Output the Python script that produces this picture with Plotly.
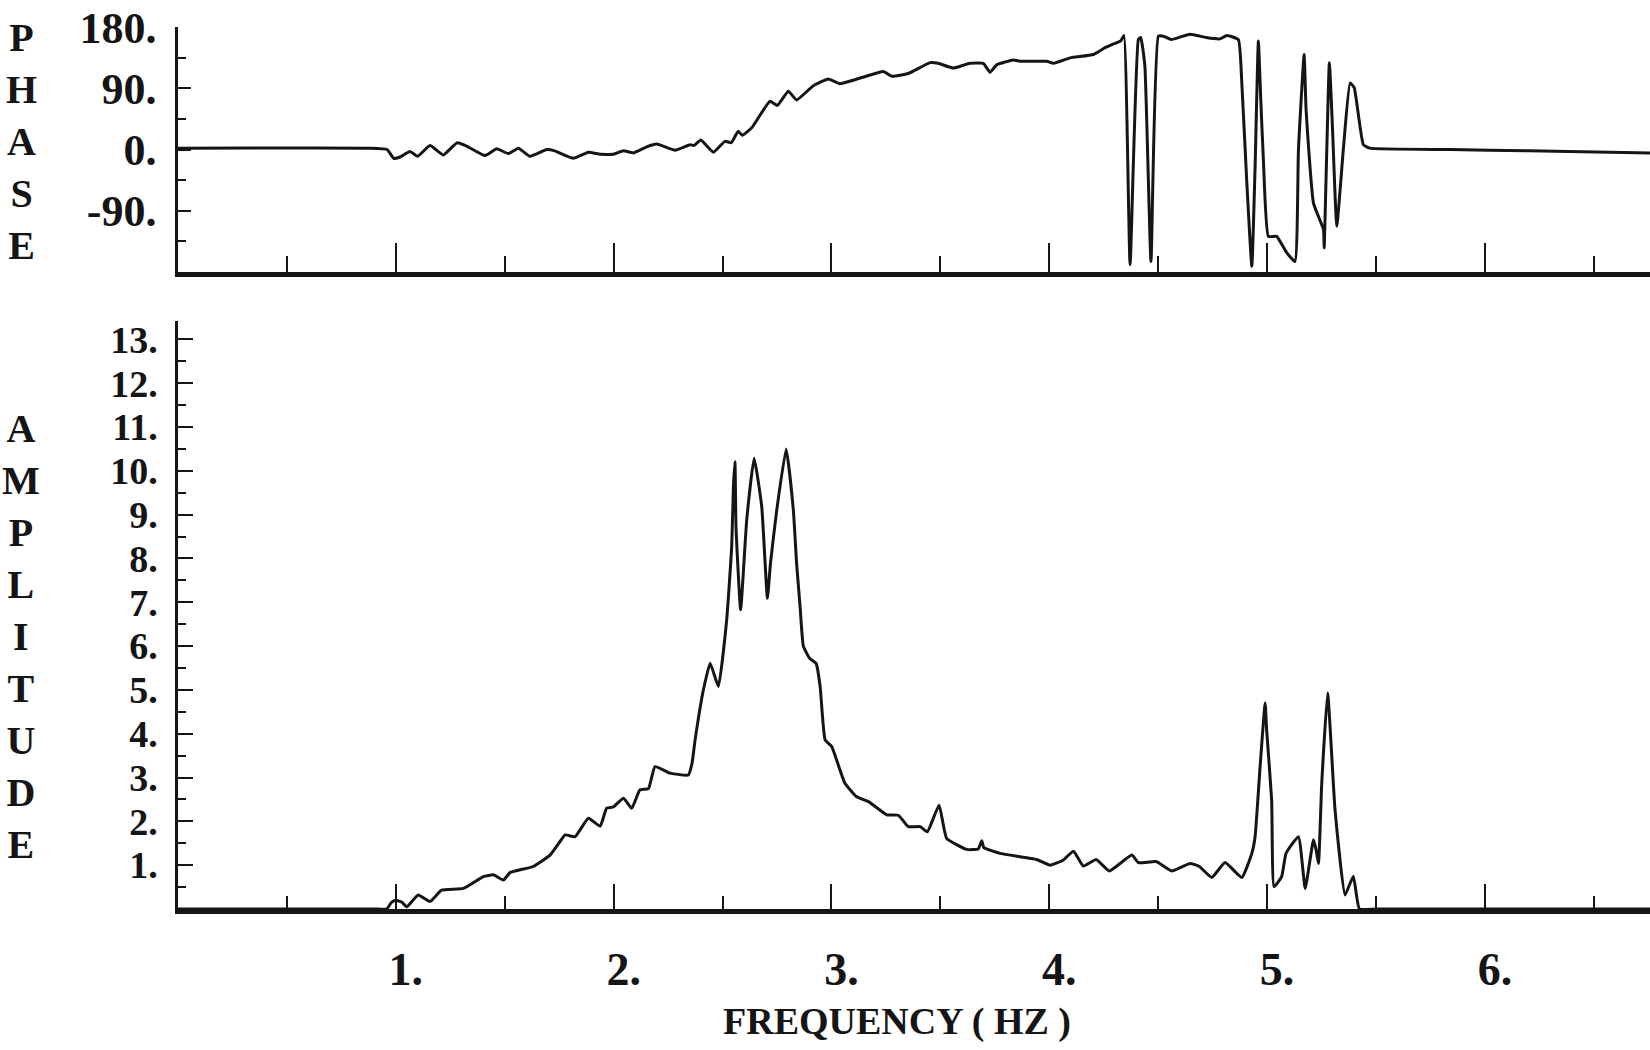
import plotly.graph_objects as go

# ---------------- data ----------------
phase_freq = [0.0, 0.88, 0.96, 0.99, 1.02, 1.065, 1.10, 1.157, 1.218, 1.282,
              1.325, 1.41, 1.463, 1.517, 1.563, 1.616, 1.693, 1.73, 1.815, 1.884,
              1.938, 1.999, 2.045, 2.091, 2.152, 2.198, 2.282, 2.351, 2.37, 2.40,
              2.458, 2.511, 2.54, 2.572, 2.59, 2.634, 2.718, 2.752, 2.802, 2.84,
              2.917, 2.986, 3.039, 3.139, 3.238, 3.277, 3.353, 3.453, 3.49, 3.56,
              3.636, 3.697, 3.728, 3.759, 3.835, 3.87, 3.988, 4.019, 4.096, 4.202,
              4.256, 4.29, 4.328, 4.343, 4.371, 4.409, 4.42, 4.439, 4.467, 4.501,
              4.524, 4.56, 4.646, 4.72, 4.784, 4.815, 4.868, 4.884, 4.907, 4.93,
              4.945, 4.96, 4.971, 4.983, 5.006, 5.044, 5.09, 5.128, 5.144, 5.17,
              5.179, 5.213, 5.259, 5.262, 5.286, 5.30, 5.32, 5.35, 5.381, 5.40,
              5.442, 5.47, 5.84, 6.2, 6.76]
phase_deg = [2, 2, 0, -13, -11, -3, -10, 6, -8, 10,
             5, -9, 1, -6, 2, -10, 0, -2, -13, -4,
             -7, -7, -2, -5, 4, 8, -1, 7, 6, 14,
             -4, 12, 10, 27, 21, 32, 71, 65, 86, 73,
             94, 104, 97, 106, 115, 108, 112, 128, 127, 120,
             127, 127, 114, 125, 132, 130, 130, 127, 135, 140,
             150, 155, 160, 168, -170, 162, 165, 123, -165, 167,
             167, 162, 170, 165, 163, 168, 162, 98, -49, -172,
             -25, 160, 74, -15, -128, -128, -152, -165, 0, 140,
             59, -79, -118, -145, 128, 34, -113, 0, 98, 91,
             7, 2, 0, -2, -5]

amp_freq = [0.0, 0.5, 0.9, 0.958, 0.98, 1.0, 1.03, 1.05, 1.103, 1.157, 1.21, 1.31,
            1.402, 1.448, 1.494, 1.524, 1.631, 1.708, 1.754, 1.777, 1.823, 1.884,
            1.938, 1.968, 1.999, 2.045, 2.083, 2.121, 2.16, 2.19, 2.259, 2.343,
            2.36, 2.374, 2.389, 2.412, 2.443, 2.481, 2.519, 2.542, 2.55, 2.557,
            2.562, 2.583, 2.611, 2.645, 2.68, 2.706, 2.72, 2.749, 2.792, 2.825,
            2.84, 2.856, 2.871, 2.90, 2.93, 2.948, 2.971, 3.001, 3.062, 3.116,
            3.17, 3.254, 3.307, 3.353, 3.407, 3.44, 3.494, 3.529, 3.621, 3.674,
            3.69, 3.70, 3.774, 3.942, 4.004, 4.065, 4.111, 4.157, 4.215, 4.276,
            4.379, 4.409, 4.493, 4.562, 4.646, 4.689, 4.746, 4.807, 4.884, 4.93,
            4.945, 4.968, 4.991, 4.998, 5.021, 5.032, 5.067, 5.087, 5.144, 5.175,
            5.213, 5.225, 5.236, 5.251, 5.278, 5.312, 5.358, 5.396, 5.424, 5.5,
            6.0, 6.4, 6.76]
amp_val = [0.0, 0.0, 0.0, 0.0, 0.15, 0.2, 0.15, 0.05, 0.32, 0.17, 0.43, 0.47,
           0.74, 0.78, 0.66, 0.83, 0.97, 1.23, 1.54, 1.69, 1.65, 2.07,
           1.89, 2.30, 2.33, 2.53, 2.30, 2.72, 2.75, 3.25, 3.10, 3.06,
           3.33, 3.86, 4.35, 5.0, 5.61, 5.08, 6.6, 8.27, 9.64, 10.21,
           8.7, 6.83, 8.88, 10.29, 9.18, 7.09, 7.89, 9.11, 10.5, 9.11,
           7.89, 6.9, 6.0, 5.72, 5.6, 5.08, 3.86, 3.71, 2.87, 2.56,
           2.45, 2.15, 2.14, 1.88, 1.88, 1.76, 2.37, 1.61, 1.36, 1.37,
           1.56, 1.40, 1.27, 1.13, 1.00, 1.12, 1.32, 0.98, 1.13, 0.87,
           1.23, 1.06, 1.08, 0.87, 1.04, 0.97, 0.72, 1.06, 0.72, 1.27,
           1.65, 3.25, 4.70, 4.09, 2.49, 0.51, 0.74, 1.27, 1.65, 0.47,
           1.58, 1.35, 1.04, 2.87, 4.93, 2.26, 0.32, 0.75, 0.0, 0.0,
           0.0, 0.0, 0.0]

x_ticks = [1, 2, 3, 4, 5, 6]
x_labels = ["1.", "2.", "3.", "4.", "5.", "6."]
phase_ticks = [-90, 0, 90, 180]
phase_labels = ["-90.", "0.", "90.", "180."]
amp_ticks = list(range(1, 14))
amp_labels = [f"{v}." for v in amp_ticks]

# ---------------- styling ----------------
INK = "#151515"
FONT = "Liberation Serif, DejaVu Serif, serif"
W, H = 1650, 1050
X0 = 178 / W


def font(size):
    return dict(family=FONT, size=size, color=INK, weight="bold")


fig = go.Figure()
fig.add_trace(go.Scatter(x=phase_freq, y=phase_deg, mode="lines",
                         line=dict(color=INK, width=3, shape="spline", smoothing=0.4),
                         xaxis="x", yaxis="y", showlegend=False, hoverinfo="skip"))
fig.add_trace(go.Scatter(x=amp_freq, y=amp_val, mode="lines",
                         line=dict(color=INK, width=3, shape="spline", smoothing=0.4),
                         xaxis="x2", yaxis="y2", showlegend=False, hoverinfo="skip"))

xcommon = dict(range=[0, 6.758], showgrid=False, zeroline=False, showline=True,
               linecolor=INK, linewidth=5, ticks="inside", tickcolor=INK, tickwidth=2,
               tickmode="array", tickvals=x_ticks, automargin=False,
               minor=dict(tickmode="linear", tick0=0, dtick=0.5, ticks="inside",
                          tickcolor=INK, tickwidth=2))

fig.update_layout(
    width=W, height=H, autosize=False,
    margin=dict(l=0, r=0, t=0, b=0, pad=0),
    paper_bgcolor="white", plot_bgcolor="white",
    xaxis=dict(xcommon, domain=[X0, 1], anchor="y", ticklen=29,
               minor=dict(xcommon["minor"], ticklen=16), showticklabels=False),
    yaxis=dict(domain=[1 - 272 / H, 1 - 27 / H], anchor="x", range=[-180.5, 180.5],
               showgrid=False, zeroline=False, showline=True, linecolor=INK,
               linewidth=2.5, ticks="inside", ticklen=13, tickwidth=2, tickcolor=INK,
               tickmode="array", tickvals=phase_ticks, ticktext=phase_labels,
               automargin=False,
               minor=dict(tickmode="linear", tick0=0, dtick=45, ticks="inside",
                          ticklen=8, tickwidth=2, tickcolor=INK),
               tickfont=font(44), ticklabelstandoff=10),
    xaxis2=dict(xcommon, domain=[X0, 1], anchor="y2", ticklen=25,
                minor=dict(xcommon["minor"], ticklen=13),
                ticktext=x_labels, tickfont=font(46),
                ticklabelstandoff=16, ticklabelshift=10),
    yaxis2=dict(domain=[1 - 909 / H, 1 - 321 / H], anchor="x2", range=[0, 13.42],
                showgrid=False, zeroline=False, showline=True, linecolor=INK,
                linewidth=2.5, ticks="inside", ticklen=15, tickwidth=2, tickcolor=INK,
                tickmode="array", tickvals=amp_ticks, ticktext=amp_labels,
                automargin=False,
                minor=dict(tickmode="linear", tick0=0, dtick=0.5, ticks="inside",
                           ticklen=8, tickwidth=2, tickcolor=INK),
                tickfont=font(38), ticklabelstandoff=10),
    annotations=[
        dict(text="P<br>H<br>A<br>S<br>E", xref="paper", yref="paper",
             x=21 / W, y=1 - 141 / H, xanchor="center", yanchor="middle",
             showarrow=False, font=font(40)),
        dict(text="A<br>M<br>P<br>L<br>I<br>T<br>U<br>D<br>E", xref="paper",
             yref="paper", x=21 / W, y=1 - 636 / H, xanchor="center",
             yanchor="middle", showarrow=False, font=font(40)),
        dict(text="FREQUENCY ( HZ )", xref="paper", yref="paper",
             x=897 / W, y=1 - 1021 / H, xanchor="center", yanchor="middle",
             showarrow=False, font=font(38)),
    ],
)

assert len(phase_freq) == len(phase_deg)
assert len(amp_freq) == len(amp_val)

fig.write_html("out.html")
